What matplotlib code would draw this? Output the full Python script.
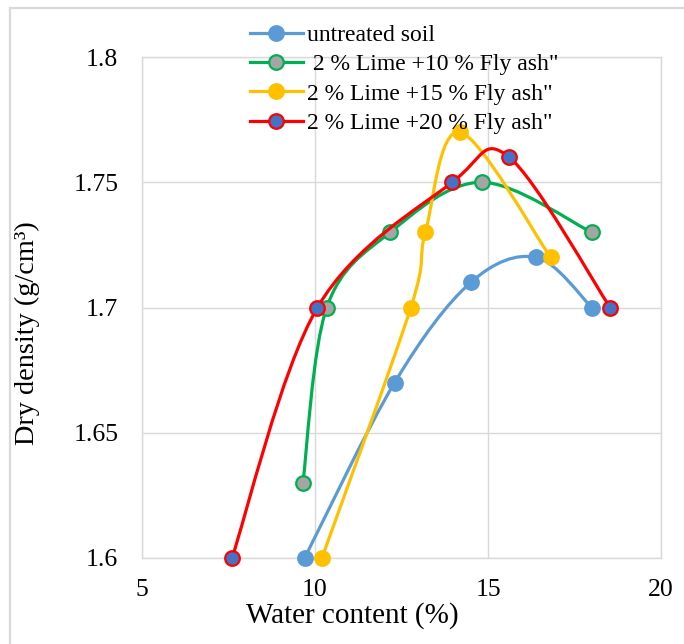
import matplotlib
matplotlib.use("Agg")
import matplotlib.pyplot as plt
from matplotlib.path import Path
from matplotlib.patches import PathPatch
from matplotlib.lines import Line2D
import numpy as np

plt.rcParams['font.family'] = ['Liberation Serif', 'DejaVu Serif']

# Data
untreated_x = [9.7, 12.3, 14.5, 16.4, 18.0]
untreated_y = [1.60, 1.67, 1.71, 1.72, 1.70]

lime10_x = [9.65, 10.34, 12.17, 14.82, 18.0]
lime10_y = [1.63, 1.70, 1.73, 1.75, 1.73]

lime15_x = [10.2, 12.77, 13.19, 14.19, 16.81]
lime15_y = [1.60, 1.70, 1.73, 1.77, 1.72]

lime20_x = [7.6, 10.07, 13.97, 15.61, 18.53]
lime20_y = [1.60, 1.70, 1.75, 1.76, 1.70]

labels = ["untreated soil", " 2 % Lime +10 % Fly ash\"", "2 % Lime +15 % Fly ash\"", "2 % Lime +20 % Fly ash\""]
x_ticks = [5, 10, 15, 20]
y_ticks = [1.6, 1.65, 1.7, 1.75, 1.8]
y_tick_labels = ["1.6", "1.65", "1.7", "1.75", "1.8"]

series = [
    (untreated_x, untreated_y, "#5B9BD5", "#5B9BD5"),
    (lime10_x, lime10_y, "#00B050", "#A5A5A5"),
    (lime15_x, lime15_y, "#FFC000", "#FFC000"),
    (lime20_x, lime20_y, "#FF0000", "#4472C4"),
]


def smooth_path(xs, ys):
    pts = np.column_stack([xs, ys]).astype(float)
    n = len(pts)
    verts = [pts[0]]
    codes = [Path.MOVETO]
    for i in range(n - 1):
        p0 = pts[i - 1] if i > 0 else pts[i]
        p1 = pts[i]
        p2 = pts[i + 1]
        p3 = pts[i + 2] if i + 2 < n else pts[i + 1]
        c1 = p1 + (p2 - p0) / 6.0
        c2 = p2 - (p3 - p1) / 6.0
        verts += [c1, c2, p2]
        codes += [Path.CURVE4] * 3
    return Path(verts, codes)


fig = plt.figure(figsize=(6.84, 6.44), dpi=100)
ax = fig.add_axes([142 / 684, 86 / 644, 519 / 684, 501 / 644])

grid_c = "#D9D9D9"
ax.set_xlim(5, 20)
ax.set_ylim(1.6, 1.8)
ax.set_xticks(x_ticks)
ax.set_yticks(y_ticks)
ax.set_yticklabels(y_tick_labels)
ax.grid(True, color=grid_c, lw=1.0)
ax.set_axisbelow(True)
for s in ax.spines.values():
    s.set_color(grid_c)
    s.set_linewidth(1.0)
ax.tick_params(length=0, labelsize=18.5)
ax.tick_params(axis='x', pad=15)
ax.tick_params(axis='y', pad=17)

handles = []
for k, (xs, ys, lc, mfc) in enumerate(series):
    patch = PathPatch(smooth_path(xs, ys), fill=False, edgecolor=lc, lw=2.3,
                      zorder=3 + 2 * k, capstyle='round', joinstyle='round')
    ax.add_patch(patch)
    ax.plot(xs, ys, ls='none', marker='o', ms=10.5, mfc=mfc, mec=lc, mew=1.6,
            zorder=4 + 2 * k, clip_on=False)
    handles.append(Line2D([], [], color=lc, lw=2.3, marker='o', ms=10.5,
                          mfc=mfc, mec=lc, mew=1.6))

ax.set_xlabel("Water content (%)", fontsize=21)
ax.xaxis.set_label_coords(0.405, -0.088)
ax.set_ylabel("Dry density (g/cm³)", fontsize=20.3)
ax.yaxis.set_label_coords(-0.197, 0.449)

fig.legend(handles, labels, loc='upper left', bbox_to_anchor=(233 / 684, 1 - 8 / 644),
           frameon=False, fontsize=17, handlelength=2.25, handletextpad=0.2,
           labelspacing=0.33, borderpad=0.2)

# outer chart frame (left and top visible)
fig.add_artist(Line2D([10 / 684, 10 / 684], [0, 1 - 7.5 / 644], transform=fig.transFigure,
                      color=grid_c, lw=1.6))
fig.add_artist(Line2D([10 / 684, 1], [1 - 7.5 / 644, 1 - 7.5 / 644], transform=fig.transFigure,
                      color=grid_c, lw=1.6))

fig.savefig("out.png", dpi=100)
